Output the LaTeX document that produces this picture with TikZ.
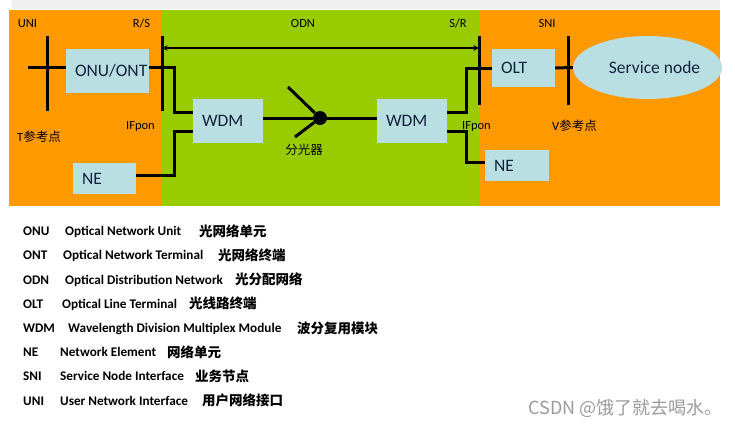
\documentclass[tikz,border=0pt]{standalone}
\usepackage{fontspec}
\setmainfont{Carlito}
\newfontfamily\cjk{Noto Sans CJK SC}
\usetikzlibrary{shapes.geometric}
\definecolor{ponorange}{HTML}{FF9900}
\definecolor{odngreen}{HTML}{99CC00}
\definecolor{boxblue}{HTML}{B9DFE3}
\definecolor{stripgray}{HTML}{F0F0F0}
\definecolor{boxtext}{HTML}{14213D}
\definecolor{marktext}{HTML}{9A9A9A}
\newcommand\boxfont{\fontsize{17.5pt}{20pt}\selectfont}
\newcommand\lblfont{\fontsize{12.5pt}{14pt}\selectfont}
\newcommand\legfont{\fontsize{13.2pt}{15pt}\selectfont\bfseries}

\begin{document}
\begin{tikzpicture}[x=1pt,y=-1pt,
	box/.style={fill=boxblue,text=boxtext,font=\boxfont,inner xsep=9pt,inner ysep=0pt,align=left},
	wire/.style={line width=3pt},
	lbl/.style={font=\lblfont,inner sep=0pt},
	leg/.style={font=\legfont,inner sep=0pt,anchor=base west}]
	\useasboundingbox (0,0) rectangle (735,428);
	% background
	\fill[stripgray] (12,0) rectangle (720,9);
	\fill[ponorange] (9,10) rectangle (720,206);
	\fill[odngreen] (162,10) rectangle (479,206);
	% boxes
	\node[box,text width=65pt,minimum height=44pt] (onu) at (107.5,71) {ONU/ONT};
	\node[box,text width=52pt,minimum height=44pt] (wdmA) at (228,121) {WDM};
	\node[box,text width=45pt,minimum height=31pt] (neA) at (104.5,178.5) {NE};
	\node[box,text width=52pt,minimum height=44pt] (wdmB) at (412,121) {WDM};
	\node[box,text width=46pt,minimum height=31pt] (neB) at (517,165.5) {NE};
	\node[box,text width=45pt,minimum height=38pt] (olt) at (523.5,68) {OLT};
	\node[ellipse,fill=boxblue,text=boxtext,font=\boxfont,inner sep=0pt,
		minimum width=133pt,minimum height=63pt] (svc) at (647.5,67.5) {\hspace*{14pt}Service node};
	\node[circle,fill=black,inner sep=0pt,minimum size=14pt] (split) at (320,118) {};
	% reference points
	\coordinate (uniEnd) at (28,67);
	\coordinate (tTop) at (47,36);
	\coordinate (tBot) at (47,111);
	\coordinate (rsTop) at (162,36);
	\coordinate (rsBot) at (162,111);
	\coordinate (srTop) at (479,36);
	\coordinate (srBot) at (479,105);
	\coordinate (vTop) at (568,36);
	\coordinate (vBot) at (568,105);
	\coordinate (brA) at (288,87);
	\coordinate (brB) at (295,137);
	\draw[wire] (tTop) -- (tBot);
	\draw[wire] (rsTop) -- (rsBot);
	\draw[wire] (srTop) -- (srBot);
	\draw[wire] (vTop) -- (vBot);
	% fibres
	\draw[wire] (uniEnd) -- (uniEnd -| onu.west);
	\draw[wire] (onu.east |- uniEnd) -- ++(25,0) |- ([yshift=9pt]wdmA.west);
	\draw[wire] ([yshift=3pt]neA.east) -- ++(38,0) |- ([yshift=-10pt]wdmA.west);
	\draw[wire] ([yshift=3pt]wdmA.east) -- (split);
	\draw[wire] (split) -- ([yshift=3pt]wdmB.west);
	\draw[wire] (brA) -- (split);
	\draw[wire] (brB) -- (split);
	\draw[wire] ([yshift=9pt]wdmB.east) -- ++(19,0) |- (olt.west);
	\draw[wire] ([yshift=-10pt]wdmB.east) -- ++(19,0) |- ([yshift=3.5pt]neB.west);
	\draw[wire] (olt.east) -- (svc.west);
	\draw[line width=1.5pt,<->,>=stealth] ([yshift=-12pt]rsTop) -- ([yshift=-12pt]srTop);
	% labels
	\node[lbl,anchor=base] (uniLbl) at (27.5,27.5) {UNI};
	\node[lbl,anchor=base] (rsLbl) at (141.5,27.5) {R/S};
	\node[lbl,anchor=base] (odnLbl) at (303,27.5) {ODN};
	\node[lbl,anchor=base] (srLbl) at (458,27.5) {S/R};
	\node[lbl,anchor=base] (sniLbl) at (547,27.5) {SNI};
	\node[lbl,anchor=base] (ifponA) at (140.5,129.5) {IFpon};
	\node[lbl,anchor=base] (ifponB) at (476.5,129.5) {IFpon};
	\node[lbl,anchor=base west] (tRef) at (17,141) {T{\cjk 参考点}};
	\node[lbl,anchor=base west] (vRef) at (552,130) {V{\cjk 参考点}};
	\node[lbl,anchor=base] (splLbl) at (304,154) {\cjk 分光器};
	% legend
	\foreach \ab/\xe/\en/\xc/\cn [count=\i] in {
		ONU/65/Optical Network Unit/199/光网络单元,
		ONT/63/Optical Network Terminal/218/光网络终端,
		ODN/65/Optical Distribution Network/235/光分配网络,
		OLT/62/Optical Line Terminal/189/光线路终端,
		WDM/68/Wavelength Division Multiplex Module/297/波分复用模块,
		NE/60/Network Element/167/网络单元,
		SNI/60/Service Node Interface/195/业务节点,
		UNI/60/User Network Interface/202/用户网络接口}{
		\node[leg] (ab\i) at (23,{235.7+(\i-1)*24.2}) {\ab};
		\node[leg] (en\i) at (\xe,{235.7+(\i-1)*24.2}) {\en};
		\node[leg,font=\legfont\cjk\fontsize{13.5pt}{15pt}\selectfont] (cn\i) at (\xc,{236.2+(\i-1)*24.2}) {\cn};
	}
	\node[anchor=base east,inner sep=0pt,text=marktext,font=\cjk\fontsize{18pt}{21pt}\selectfont] (mark) at (723,414) {CSDN @饿了就去喝水。};
\end{tikzpicture}
\end{document}
